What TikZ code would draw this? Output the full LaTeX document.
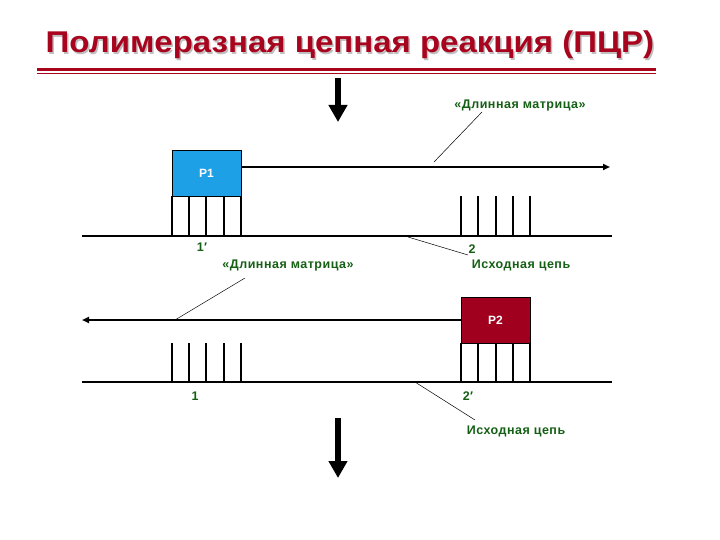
\documentclass[tikz,border=0pt]{standalone}
\usepackage{fontspec}
\setmainfont{Liberation Sans}
\newfontfamily\lblfont[LetterSpace=4]{Liberation Sans}
\usetikzlibrary{arrows.meta}
\definecolor{titlered}{RGB}{168,4,30}
\definecolor{lblgreen}{RGB}{20,95,20}
\definecolor{pblue}{RGB}{30,160,230}
\definecolor{pred}{RGB}{160,0,30}
\tikzset{
  strand/.style={line width=1.8pt},
  tickln/.style={line width=1.8pt},
  leader/.style={line width=0.5pt},
  lbl/.style={text=lblgreen, font=\lblfont\fontsize{12.5}{14}\selectfont\bfseries, inner sep=0pt},
  primer/.style={draw=black, line width=0.8pt, minimum width=69pt, minimum height=46pt, inner sep=0pt, text=white, font=\fontsize{12}{14}\selectfont\bfseries},
  bigarrow/.style={line width=6pt, -{Triangle[width=18pt,length=17pt]}},
  extarrow/.style={line width=1.8pt, -{Triangle[width=6pt,length=7pt]}},
  ttl/.style={font=\fontsize{30}{32}\selectfont\bfseries, inner sep=0pt, anchor=base, xscale=1.1}
}
\begin{document}
\begin{tikzpicture}[x=1pt,y=-1pt]
\useasboundingbox (0,0) rectangle (720,540);
% title
\node[ttl, text=black!25] (tshadow) at (351.5,54.5) {Полимеразная цепная реакция (ПЦР)};
\node[ttl, text=titlered] (title) at (350,53) {Полимеразная цепная реакция (ПЦР)};
\draw[titlered, line width=2.5pt] (37,69.5) coordinate (tl1) -- (656,69.5) coordinate (tr1);
\draw[titlered, line width=1pt] (37,73.5) coordinate (tl2) -- (656,73.5) coordinate (tr2);
% big arrows
\coordinate (a1s) at (338,78); \coordinate (a1e) at (338,122);
\draw[bigarrow] (a1s) -- (a1e);
\coordinate (a2s) at (338,418); \coordinate (a2e) at (338,478);
\draw[bigarrow] (a2s) -- (a2e);
% upper part
\node[primer, fill=pblue] (p1) at (206.5,173) {P1};
\coordinate (ext1) at (610,167);
\draw[extarrow] (p1.east |- ext1) -- (ext1);
\coordinate (s1l) at (82,236); \coordinate (s1r) at (612,236);
\draw[strand] (s1l) -- (s1r);
\foreach \x in {172,189,206,224,241} \draw[tickln] (\x,196) -- (\x,236);
\foreach \x in {461,478,496,513,530} \draw[tickln] (\x,196) -- (\x,236);
\node[lbl] (lm1) at (520,105) {«Длинная матрица»};
\coordinate (lm1e) at (434,162);
\draw[leader] (482,112) -- (lm1e);
\node[lbl] (n1p) at (202,247) {1′};
\node[lbl] (n2) at (472,249) {2};
\node[lbl] (ic1) at (521,265) {Исходная цепь};
\coordinate (ic1s) at (408,237);
\draw[leader] (ic1s) -- (468,255);
\node[lbl] (lm2) at (288,265) {«Длинная матрица»};
% lower part
\node[primer, fill=pred] (p2) at (495.5,320.5) {P2};
\coordinate (ext2) at (82,320);
\draw[extarrow] (p2.west |- ext2) -- (ext2);
\coordinate (lm2e) at (175,320);
\draw[leader] (245,278) -- (lm2e);
\coordinate (s2l) at (82,382); \coordinate (s2r) at (612,382);
\draw[strand] (s2l) -- (s2r);
\foreach \x in {172,189,206,224,241} \draw[tickln] (\x,343) -- (\x,382);
\foreach \x in {461,478,496,513,530} \draw[tickln] (\x,343) -- (\x,382);
\node[lbl] (n1) at (195,396) {1};
\node[lbl] (n2p) at (468,396) {2′};
\node[lbl] (ic2) at (516,431) {Исходная цепь};
\coordinate (ic2s) at (415,382);
\draw[leader] (ic2s) -- (475,420);
\end{tikzpicture}
\end{document}
